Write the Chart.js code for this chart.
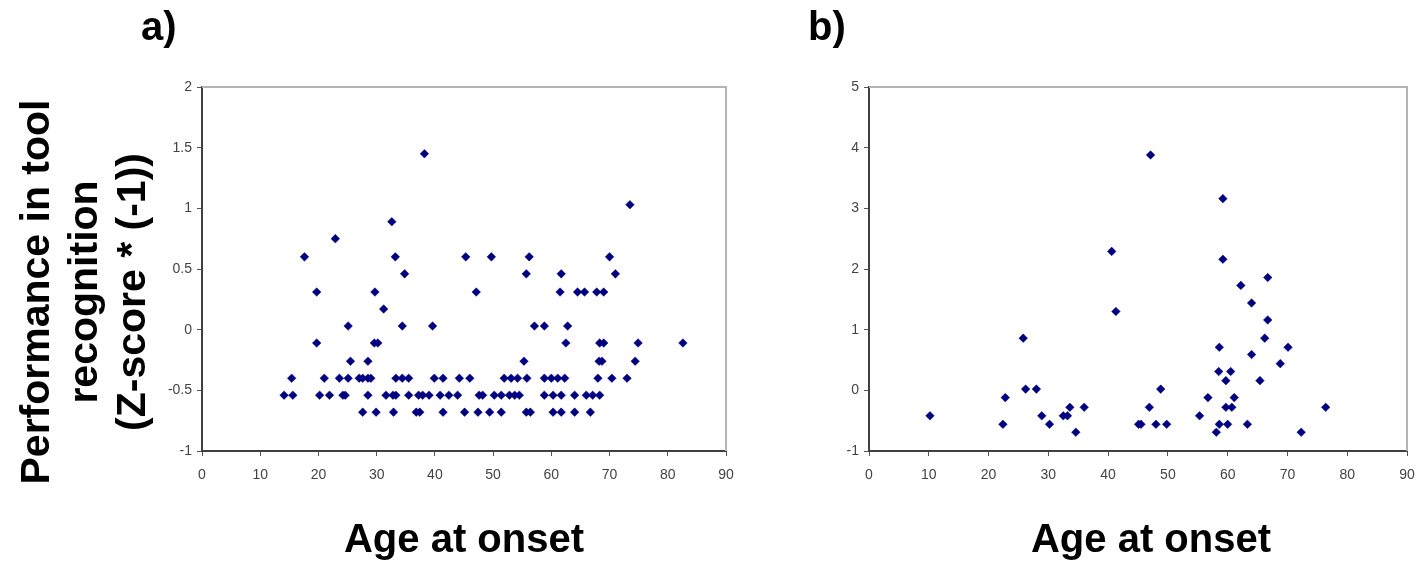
<!DOCTYPE html>
<html>
<head>
<meta charset="utf-8">
<script src="https://cdn.jsdelivr.net/npm/chart.js@4.4.0/dist/chart.umd.min.js"></script>
<style>
    html { overflow: hidden; }
    body { margin: 0; background: #fff; width: 1416px; height: 563px; position: relative; overflow: hidden; }
    canvas { position: absolute; top: 0; }
    .panel-label { position: absolute; font: bold 40px 'Liberation Sans', Arial, sans-serif; color: #000; }
    .x-title {
        position: absolute; width: 400px; top: 514px; text-align: center;
        font: bold 40px/48px 'Liberation Sans', Arial, sans-serif; color: #000;
    }
    .y-title {
        position: absolute; width: 420px; height: 144px; left: -127px; top: 220px;
        transform: rotate(-90deg); text-align: center;
        font: bold 41px/48px 'Liberation Sans', Arial, sans-serif; color: #000;
    }
</style>
</head>
<body>
<canvas id="chartA" width="760" height="563" style="left:0"></canvas>
<canvas id="chartB" width="666" height="563" style="left:760px"></canvas>
<div class="panel-label" style="left:141px; top:4px;">a)</div>
<div class="panel-label" style="left:808px; top:4px;">b)</div>
<div class="y-title">Performance in tool<br>recognition<br>(Z-score * (-1))</div>
<div class="x-title" style="left:264px;">Age at onset</div>
<div class="x-title" style="left:951px;">Age at onset</div>
<script>
// Panel a: age at onset vs tool recognition score
const ageA = [
    38.2, 73.5, 32.6, 22.9,
    17.6, 33.2, 45.3, 49.7, 56.2, 70.0,
    34.8, 55.7, 61.7, 71.0,
    19.7, 29.7, 47.1, 61.5, 64.5, 65.7, 67.8, 69.0,
    31.2,
    25.1, 34.4, 39.6, 57.1, 58.8, 62.8,
    19.7, 29.6, 30.2, 62.5, 68.3, 69.0, 74.9, 82.6,
    25.5, 28.5, 55.3, 68.2, 68.7, 74.4,
    15.4, 21.0, 23.6, 25.1, 27.0, 27.6, 28.5, 29.0, 33.3, 34.4, 35.5, 39.9, 41.4, 44.2, 46.0,
    51.9, 53.1, 54.2, 55.8, 58.8, 60.0, 61.1, 62.3, 68.0, 70.4, 73.0,
    14.1, 15.6, 20.2, 21.9, 24.2, 24.6, 28.5, 31.6, 32.8, 33.3, 35.5, 37.2, 37.9, 39.0, 40.9, 42.4,
    43.9, 47.6, 48.2, 50.2, 51.4, 52.8, 53.7, 54.5, 58.8, 60.3, 61.7, 64.0, 66.0, 67.1, 68.3,
    27.6, 29.9, 32.9, 36.8, 37.4, 41.4, 45.1, 47.4, 49.4, 51.4, 55.7, 56.4, 60.3, 61.7, 64.0, 66.7
];
const scoreA = [
    1.45, 1.03, 0.89, 0.75,
    0.60, 0.60, 0.60, 0.60, 0.60, 0.60,
    0.46, 0.46, 0.46, 0.46,
    0.31, 0.31, 0.31, 0.31, 0.31, 0.31, 0.31, 0.31,
    0.17,
    0.03, 0.03, 0.03, 0.03, 0.03, 0.03,
    -0.11, -0.11, -0.11, -0.11, -0.11, -0.11, -0.11, -0.11,
    -0.26, -0.26, -0.26, -0.26, -0.26, -0.26,
    -0.40, -0.40, -0.40, -0.40, -0.40, -0.40, -0.40, -0.40, -0.40, -0.40, -0.40, -0.40, -0.40, -0.40, -0.40,
    -0.40, -0.40, -0.40, -0.40, -0.40, -0.40, -0.40, -0.40, -0.40, -0.40, -0.40,
    -0.54, -0.54, -0.54, -0.54, -0.54, -0.54, -0.54, -0.54, -0.54, -0.54, -0.54, -0.54, -0.54, -0.54, -0.54, -0.54,
    -0.54, -0.54, -0.54, -0.54, -0.54, -0.54, -0.54, -0.54, -0.54, -0.54, -0.54, -0.54, -0.54, -0.54, -0.54,
    -0.68, -0.68, -0.68, -0.68, -0.68, -0.68, -0.68, -0.68, -0.68, -0.68, -0.68, -0.68, -0.68, -0.68, -0.68, -0.68
];

// Panel b
const ageB = [
    47.1, 59.2, 40.6, 59.2, 66.7, 62.2, 64.0, 41.3, 66.7, 25.8, 66.2,
    58.6, 70.1, 64.0, 68.8, 58.5, 60.5, 59.7, 65.4,
    26.2, 28.0, 48.8, 22.8, 56.7, 61.1,
    33.6, 36.0, 46.9, 59.7, 60.7, 76.4,
    10.2, 28.9, 32.5, 33.2, 55.3,
    22.4, 30.2, 45.1, 45.5, 48.0, 49.8, 58.6, 60.0, 63.3,
    34.6, 58.1, 72.3
];
const scoreB = [
    3.88, 3.16, 2.29, 2.16, 1.86, 1.73, 1.44, 1.30, 1.16, 0.86, 0.86,
    0.71, 0.71, 0.59, 0.44, 0.31, 0.31, 0.16, 0.16,
    0.02, 0.02, 0.02, -0.12, -0.12, -0.12,
    -0.28, -0.28, -0.28, -0.28, -0.28, -0.28,
    -0.42, -0.42, -0.42, -0.42, -0.42,
    -0.56, -0.56, -0.56, -0.56, -0.56, -0.56, -0.56, -0.56, -0.56,
    -0.69, -0.69, -0.69
];

const FONT = "'Liberation Sans', Arial, sans-serif";
const MARKER = '#000080';

// light grey top/right edges of the plot area
const framePlugin = {
    id: 'frame',
    beforeDatasetsDraw(chart) {
        const { ctx, chartArea: a } = chart;
        ctx.save();
        ctx.strokeStyle = '#b4b4b4';
        ctx.lineWidth = 2;
        ctx.beginPath();
        ctx.moveTo(a.left, a.top);
        ctx.lineTo(a.right, a.top);
        ctx.lineTo(a.right, a.bottom);
        ctx.stroke();
        ctx.restore();
    }
};

function makeScatter(canvasId, xs, ys, opts) {
    const points = xs.map((x, i) => ({ x: x, y: ys[i] }));
    const axisGrid = {
        drawOnChartArea: false,
        drawTicks: true,
        tickLength: 5,
        color: '#555'
    };
    return new Chart(document.getElementById(canvasId), {
        type: 'scatter',
        data: {
            datasets: [{
                data: points,
                pointStyle: 'rectRot',
                pointRadius: 4.3,
                borderWidth: 0.5,
                borderColor: MARKER,
                backgroundColor: MARKER
            }]
        },
        options: {
            responsive: false,
            animation: false,
            // right padding must cover the last x label (half width + tick padding)
            layout: { padding: { top: 87, right: opts.padRight, left: 0, bottom: 0 } },
            plugins: { legend: { display: false }, tooltip: { enabled: false } },
            scales: {
                x: {
                    type: 'linear',
                    min: 0,
                    max: 90,
                    afterFit: s => { s.height = 112; },
                    grid: axisGrid,
                    border: { color: '#404040', width: 2 },
                    ticks: { stepSize: 10, color: '#444', padding: 11, font: { family: FONT, size: 14 } }
                },
                y: {
                    type: 'linear',
                    min: opts.yMin,
                    max: opts.yMax,
                    afterFit: s => { s.width = opts.yWidth; },
                    grid: axisGrid,
                    border: { color: '#404040', width: 2 },
                    ticks: {
                        stepSize: opts.yStep,
                        color: '#444',
                        padding: 5,
                        font: { family: FONT, size: 14 },
                        callback: v => String(v)
                    }
                }
            }
        },
        plugins: [framePlugin]
    });
}

makeScatter('chartA', ageA, scoreA, { yMin: -1, yMax: 2, yStep: 0.5, yWidth: 202, padRight: 34 });
makeScatter('chartB', ageB, scoreB, { yMin: -1, yMax: 5, yStep: 1, yWidth: 109, padRight: 19 });
</script>
</body>
</html>
